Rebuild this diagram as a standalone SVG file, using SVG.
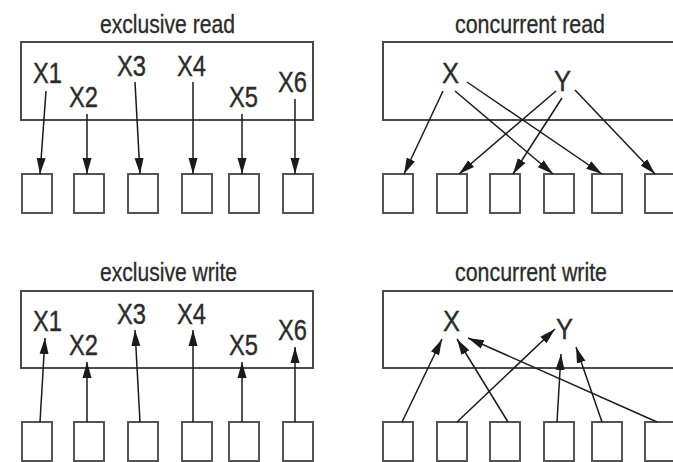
<svg xmlns="http://www.w3.org/2000/svg" width="673" height="462" viewBox="0 0 673 462">
  <defs>
    <marker id="arrow" markerUnits="userSpaceOnUse" markerWidth="17" markerHeight="10" refX="16" refY="5" orient="auto">
      <path d="M0,0.5 L16,5 L0,9.5 z" fill="#1a1a1a"/>
    </marker>
    <style>
      .frame { fill: #ffffff; stroke: #4a4a4a; stroke-width: 2; }
      .cell { fill: #ffffff; stroke: #555555; stroke-width: 2; }
      .title { font-family: "Liberation Sans", Arial, sans-serif; font-size: 25px; fill: #2b2b2b; stroke: #2b2b2b; stroke-width: 0.3; }
      .var { font-family: "Liberation Sans", Arial, sans-serif; font-size: 30px; fill: #2b2b2b; stroke: #2b2b2b; stroke-width: 0.4; }
      .link { stroke: #1a1a1a; stroke-width: 1.5; fill: none; marker-end: url(#arrow); }
    </style>
  </defs>
  <rect width="673" height="462" fill="#ffffff"/>

  <!-- exclusive read -->
  <g id="exclusive-read">
    <text class="title" x="100" y="33" textLength="135" lengthAdjust="spacingAndGlyphs">exclusive read</text>
    <g id="er-memory">
      <rect class="frame" x="21" y="42" width="292" height="78"/>
      <text class="var" x="33" y="83" textLength="29" lengthAdjust="spacingAndGlyphs">X1</text>
      <text class="var" x="69" y="107" textLength="29" lengthAdjust="spacingAndGlyphs">X2</text>
      <text class="var" x="117" y="76" textLength="29" lengthAdjust="spacingAndGlyphs">X3</text>
      <text class="var" x="177" y="76" textLength="29" lengthAdjust="spacingAndGlyphs">X4</text>
      <text class="var" x="229" y="107" textLength="29" lengthAdjust="spacingAndGlyphs">X5</text>
      <text class="var" x="278" y="92" textLength="29" lengthAdjust="spacingAndGlyphs">X6</text>
    </g>
    <g id="er-p1"><rect class="cell" x="22" y="174" width="30" height="39"/></g>
    <g id="er-p2"><rect class="cell" x="74" y="174" width="30" height="39"/></g>
    <g id="er-p3"><rect class="cell" x="128" y="174" width="30" height="39"/></g>
    <g id="er-p4"><rect class="cell" x="182" y="174" width="30" height="39"/></g>
    <g id="er-p5"><rect class="cell" x="229" y="174" width="30" height="39"/></g>
    <g id="er-p6"><rect class="cell" x="283" y="174" width="30" height="39"/></g>
  </g>

  <!-- concurrent read -->
  <g id="concurrent-read">
    <text class="title" x="455" y="33" textLength="150" lengthAdjust="spacingAndGlyphs">concurrent read</text>
    <g id="cr-memory">
      <rect class="frame" x="383" y="42" width="292" height="78"/>
      <text class="var" x="442" y="83" textLength="17" lengthAdjust="spacingAndGlyphs">X</text>
      <text class="var" x="554" y="91" textLength="17" lengthAdjust="spacingAndGlyphs">Y</text>
    </g>
    <g id="cr-p1"><rect class="cell" x="383" y="174" width="30" height="39"/></g>
    <g id="cr-p2"><rect class="cell" x="437" y="174" width="30" height="39"/></g>
    <g id="cr-p3"><rect class="cell" x="490" y="174" width="30" height="39"/></g>
    <g id="cr-p4"><rect class="cell" x="544" y="174" width="30" height="39"/></g>
    <g id="cr-p5"><rect class="cell" x="592" y="174" width="30" height="39"/></g>
    <g id="cr-p6"><rect class="cell" x="645" y="174" width="30" height="39"/></g>
  </g>

  <!-- exclusive write -->
  <g id="exclusive-write">
    <text class="title" x="100" y="281" textLength="137" lengthAdjust="spacingAndGlyphs">exclusive write</text>
    <g id="ew-memory">
      <rect class="frame" x="21" y="291" width="292" height="77"/>
      <text class="var" x="33" y="331" textLength="29" lengthAdjust="spacingAndGlyphs">X1</text>
      <text class="var" x="69" y="355" textLength="29" lengthAdjust="spacingAndGlyphs">X2</text>
      <text class="var" x="117" y="324" textLength="29" lengthAdjust="spacingAndGlyphs">X3</text>
      <text class="var" x="177" y="324" textLength="29" lengthAdjust="spacingAndGlyphs">X4</text>
      <text class="var" x="229" y="355" textLength="29" lengthAdjust="spacingAndGlyphs">X5</text>
      <text class="var" x="278" y="340" textLength="29" lengthAdjust="spacingAndGlyphs">X6</text>
    </g>
    <g id="ew-p1"><rect class="cell" x="22" y="422" width="30" height="39"/></g>
    <g id="ew-p2"><rect class="cell" x="74" y="422" width="30" height="39"/></g>
    <g id="ew-p3"><rect class="cell" x="128" y="422" width="30" height="39"/></g>
    <g id="ew-p4"><rect class="cell" x="182" y="422" width="30" height="39"/></g>
    <g id="ew-p5"><rect class="cell" x="229" y="422" width="30" height="39"/></g>
    <g id="ew-p6"><rect class="cell" x="283" y="422" width="30" height="39"/></g>
  </g>

  <!-- concurrent write -->
  <g id="concurrent-write">
    <text class="title" x="455" y="281" textLength="152" lengthAdjust="spacingAndGlyphs">concurrent write</text>
    <g id="cw-memory">
      <rect class="frame" x="383" y="291" width="292" height="77"/>
      <text class="var" x="443" y="331" textLength="17" lengthAdjust="spacingAndGlyphs">X</text>
      <text class="var" x="556" y="339" textLength="17" lengthAdjust="spacingAndGlyphs">Y</text>
    </g>
    <g id="cw-p1"><rect class="cell" x="383" y="422" width="30" height="39"/></g>
    <g id="cw-p2"><rect class="cell" x="437" y="422" width="30" height="39"/></g>
    <g id="cw-p3"><rect class="cell" x="490" y="422" width="30" height="39"/></g>
    <g id="cw-p4"><rect class="cell" x="544" y="422" width="30" height="39"/></g>
    <g id="cw-p5"><rect class="cell" x="592" y="422" width="30" height="39"/></g>
    <g id="cw-p6"><rect class="cell" x="645" y="422" width="30" height="39"/></g>
  </g>

  <!-- connectors -->
  <g id="connectors">
    <!-- exclusive read: each cell reads its own variable -->
    <line class="link" x1="46" y1="91" x2="40" y2="174"/>
    <line class="link" x1="87" y1="114" x2="87" y2="174"/>
    <line class="link" x1="135" y1="82" x2="140" y2="174"/>
    <line class="link" x1="193" y1="82" x2="193" y2="174"/>
    <line class="link" x1="242" y1="114" x2="242" y2="174"/>
    <line class="link" x1="295" y1="99" x2="295" y2="174"/>

    <!-- concurrent read: X and Y fan out -->
    <line class="link" x1="443" y1="91" x2="404" y2="174"/>
    <line class="link" x1="455" y1="91" x2="553" y2="174"/>
    <line class="link" x1="467" y1="82" x2="602" y2="174"/>
    <line class="link" x1="556" y1="91" x2="459" y2="174"/>
    <line class="link" x1="562" y1="98" x2="513" y2="174"/>
    <line class="link" x1="575" y1="90" x2="655" y2="174"/>

    <!-- exclusive write: each cell writes its own variable -->
    <line class="link" x1="40" y1="422" x2="45" y2="338"/>
    <line class="link" x1="87" y1="422" x2="87" y2="362"/>
    <line class="link" x1="140" y1="422" x2="135" y2="330"/>
    <line class="link" x1="193" y1="422" x2="193" y2="330"/>
    <line class="link" x1="242" y1="422" x2="242" y2="362"/>
    <line class="link" x1="295" y1="422" x2="295" y2="347"/>

    <!-- concurrent write: several cells target X and Y -->
    <line class="link" x1="402" y1="422" x2="442" y2="339"/>
    <line class="link" x1="508" y1="422" x2="457" y2="339"/>
    <line class="link" x1="457" y1="422" x2="555" y2="329"/>
    <line class="link" x1="557" y1="422" x2="561" y2="354"/>
    <line class="link" x1="602" y1="422" x2="576" y2="347"/>
    <line class="link" x1="657" y1="422" x2="468" y2="338"/>
  </g>
</svg>
